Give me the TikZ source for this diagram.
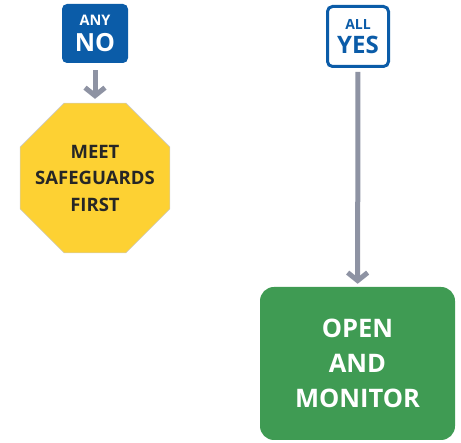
\documentclass[tikz,border=0pt]{standalone}
\usepackage{fontspec}
\setmainfont{Open Sans}
\usetikzlibrary{arrows.meta,shapes.geometric,positioning}

\definecolor{signblue}{HTML}{0B5CA8}
\definecolor{signyellow}{HTML}{FDD133}
\definecolor{signgreen}{HTML}{3F9B53}
\definecolor{arrowgray}{HTML}{8E93A3}

\begin{document}
\begin{tikzpicture}[x=1pt, y=-1pt, >={Straight Barb[length=8pt, width=20pt]},
    nobox/.style={rectangle, rounded corners=5pt, fill=signblue, text=white,
        minimum width=66pt, minimum height=59pt, inner sep=0pt, align=center,
        font=\bfseries\fontsize{25}{26}\selectfont},
    yesbox/.style={rectangle, rounded corners=5pt, draw=signblue, line width=3pt,
        fill=white, text=signblue, minimum width=61pt, minimum height=60pt,
        inner sep=0pt, align=center, font=\bfseries\fontsize{24}{24}\selectfont},
    stopsign/.style={regular polygon, regular polygon sides=8, minimum size=162pt,
        inner sep=0pt, fill=signyellow, draw=black!20, line width=0.6pt},
    stoptext/.style={inner sep=0pt, align=center, text=black!85,
        font=\bfseries\fontsize{18.5}{26.5}\selectfont},
    gobox/.style={rectangle, rounded corners=14pt, fill=signgreen, text=white,
        minimum width=195pt, minimum height=153pt, inner sep=0pt, align=center,
        font=\bfseries\fontsize{25.5}{35}\selectfont},
    flow/.style={->, draw=arrowgray, line width=5pt}]
    \useasboundingbox (0,0) rectangle (461,443);

    % Nodes {no, yes, meet, open}
    \node [nobox]    (no)   at (95,33.5)    {{\fontsize{14.5}{26}\selectfont ANY}\\NO};
    \node [yesbox]   (yes)  at (358,36.5)   {{\fontsize{14}{24}\selectfont ALL}\\YES};
    \node [stopsign, label={[stoptext]center:MEET\\SAFEGUARDS\\FIRST}]
                     (meet) at (95,178)     {};
    \node [gobox]    (open) at (357.5,363.5) {OPEN\\AND\\MONITOR};

    % Paths
    \path [flow, shorten <=7pt, shorten >=4pt] (no)  edge (meet);
    \path [flow, shorten <=4pt, shorten >=3pt] (yes) edge (open);

\end{tikzpicture}
\end{document}
